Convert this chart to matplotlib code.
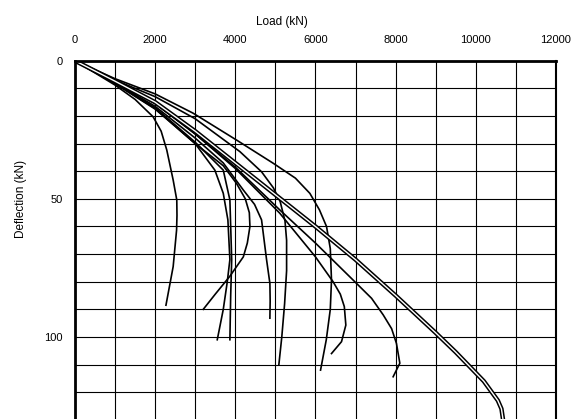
import matplotlib
matplotlib.use('Agg')
import matplotlib.pyplot as plt

plt.rcParams['font.family'] = ['Liberation Sans', 'DejaVu Sans']

# load (kN) / deflection pairs, one curve per pile test
load_a = [0, 1000, 1500, 1950, 2150, 2290, 2450, 2540, 2545, 2535, 2450, 2270]
defl_a = [0, 8.8, 14, 20.3, 25.5, 32.3, 43.2, 50.4, 56, 61.3, 74.5, 88.5]

load_b = [0, 1000, 2000, 3000, 3700, 4030, 4250, 4350, 4365, 4300, 4200, 3865, 3500, 3200]
defl_b = [0, 8.3, 17.5, 30, 38, 44.4, 50, 55, 60, 66, 71, 78, 84.5, 90]

load_c = [0, 1000, 2000, 3000, 3490, 3700, 3815, 3865, 3800, 3700, 3550]
defl_c = [0, 8.2, 17.3, 30, 39.6, 48, 57.6, 72, 80, 90, 101]

load_d = [0, 1000, 2000, 3000, 3700, 3865, 3910, 3885, 3865]
defl_d = [0, 8.1, 17, 29.5, 39.6, 50.4, 72, 85, 101]

load_e = [0, 1000, 2000, 3000, 3700, 4200, 4480, 4655, 4780, 4863, 4870, 4863]
defl_e = [0, 7.9, 16.5, 28, 37, 46.8, 52, 57.6, 72, 80.6, 87, 93.2]

load_f = [0, 1000, 2000, 3000, 4115, 4655, 4950, 5120, 5240, 5280, 5280, 5230, 5160, 5087]
defl_f = [0, 7, 13, 21, 32.9, 40.2, 46, 51, 58, 65, 76, 88, 100, 110]

load_g = [0, 1000, 2000, 2950, 4030, 4945, 5500, 5860, 6100, 6276, 6370, 6400, 6370, 6270, 6127]
defl_g = [0, 6.5, 12, 19, 28.7, 37.1, 42.5, 48, 54, 60, 68, 79.4, 90, 101, 112]

load_h = [0, 1000, 2000, 3000, 4000, 5110, 6000, 6440, 6620, 6720, 6758, 6650, 6400]
defl_h = [0, 7.6, 15.5, 26.5, 39, 55.2, 71, 80, 84.5, 89, 95.7, 101.7, 106]

load_i = [0, 1000, 2000, 3000, 4000, 5110, 6000, 6940, 7400, 7690, 7900, 8020, 8105, 7938]
defl_i = [0, 7.5, 15.3, 26.5, 38.5, 54, 66, 79.4, 86, 92, 97, 102.3, 109.5, 114.4]

load_j = [0, 1000, 2000, 3000, 4000, 5000, 6000, 7000, 8000, 9000, 9500, 10200, 10550, 10640, 10681]
defl_j = [0, 7.4, 15, 25.5, 37, 48.5, 60, 72, 85, 98.5, 105.5, 116, 123, 126, 130]

curves = [(load_a, defl_a), (load_b, defl_b), (load_c, defl_c), (load_d, defl_d),
          (load_e, defl_e), (load_f, defl_f), (load_g, defl_g), (load_h, defl_h),
          (load_i, defl_i)]

fig = plt.figure(figsize=(5.83, 4.19), dpi=100)
ax = fig.add_axes([0.1286, -0.002, 0.825, 0.857])

for x, y in curves:
    ax.plot(x, y, color='black', lw=1.2)
# the double-line curve
ax.plot(load_j, defl_j, color='black', lw=3.2, solid_capstyle='butt')
ax.plot(load_j, defl_j, color='white', lw=1.0, solid_capstyle='butt')

ax.set_xlim(0, 12000)
ax.set_ylim(130, 0)
ax.set_xticks(range(0, 12001, 2000))
ax.set_xticks(range(0, 12001, 1000), minor=True)
ax.set_yticks([0, 50, 100])
ax.set_yticks(range(0, 131, 10), minor=True)
ax.grid(True, which='both', color='black', lw=0.8)
ax.set_axisbelow(True)

ax.xaxis.tick_top()
ax.tick_params(axis='both', which='both', length=0, labelsize=8)
ax.tick_params(axis='x', pad=11)
ax.tick_params(axis='y', pad=9)

ax.set_xlabel('Load (kN)', fontsize=8.5)
ax.xaxis.set_label_position('top')
ax.xaxis.set_label_coords(0.43, 1.1)
ax.set_ylabel('Deflection (kN)', fontsize=8.5)
ax.yaxis.set_label_coords(-0.1, 0.615)

ax.spines['left'].set_linewidth(2)
ax.spines['top'].set_linewidth(2)
ax.spines['right'].set_linewidth(1.5)
ax.spines['bottom'].set_visible(False)

fig.savefig('out.png', dpi=100)
